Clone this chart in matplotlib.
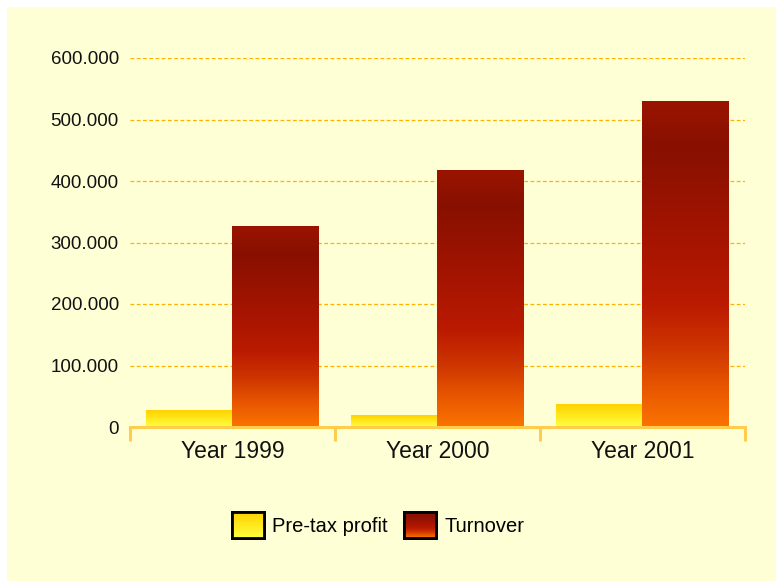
import numpy as np
import matplotlib.pyplot as plt
from matplotlib.colors import LinearSegmentedColormap
from matplotlib.patches import Patch, Rectangle
from matplotlib.ticker import FuncFormatter

# data
years = ['Year 1999', 'Year 2000', 'Year 2001']
pretax_profit = [27500, 19500, 36000]
turnover = [326500, 417000, 530000]
series_names = ['Pre-tax profit', 'Turnover']

plt.rcParams['font.family'] = ['Liberation Sans', 'DejaVu Sans']

bg = '#FFFFD5'
axis_col = '#FFCC4D'

# gradients go from top of bar (0) to bottom (1)
profit_cmap = LinearSegmentedColormap.from_list(
    'profit', [(0, '#FFD200'), (0.45, '#FFE61A'), (1, '#FFFF40')])
turnover_cmap = LinearSegmentedColormap.from_list(
    'turnover', [(0, '#9A1400'), (0.14, '#881000'), (0.45, '#A81500'),
                 (0.62, '#BA1A00'), (0.75, '#CC3300'), (0.88, '#E85600'),
                 (1, '#FA7400')])

fig = plt.figure(figsize=(7.76, 5.81), dpi=100)
fig.patch.set_facecolor('white')
fig.patches.append(Rectangle((7 / 776, 0), 1, 1 - 7 / 581, transform=fig.transFigure,
                             facecolor=bg, edgecolor='none', zorder=-10))

ax = fig.add_axes([130 / 776, 154 / 581, 615 / 776, 369 / 581])
ax.set_facecolor('none')

x = np.arange(len(years))
w = 0.42
b1 = ax.bar(x - w / 2, pretax_profit, w, color='none', edgecolor='none')
b2 = ax.bar(x + w / 2, turnover, w, color='none', edgecolor='none')

grad = np.linspace(0, 1, 256).reshape(-1, 1)
for bars, cmap in [(b1, profit_cmap), (b2, turnover_cmap)]:
    for r in bars:
        x0, h, bw = r.get_x(), r.get_height(), r.get_width()
        ax.imshow(grad, cmap=cmap, aspect='auto', extent=[x0, x0 + bw, 0, h],
                  origin='upper', zorder=3, interpolation='bilinear')

ax.set_xlim(-0.5, len(years) - 0.5)
ax.set_ylim(0, 600000)

ax.set_yticks(np.arange(0, 600001, 100000))
ax.yaxis.set_major_formatter(FuncFormatter(
    lambda v, p: '0' if v == 0 else '{:,.0f}'.format(v).replace(',', '.')))
ax.tick_params(axis='y', length=0, pad=8, labelsize=13.5, colors='#111111')
ax.grid(axis='y', color='#FFB000', linestyle=(0, (3, 2)), linewidth=0.9)
ax.set_axisbelow(True)

ax.set_xticks(x)
ax.set_xticklabels(years)
ax.set_xticks(np.arange(len(years) + 1) - 0.5, minor=True)
ax.tick_params(axis='x', which='major', length=0, pad=9, labelsize=16.5,
               colors='#111111')
ax.tick_params(axis='x', which='minor', length=10, width=2.2, color=axis_col)

for s in ['top', 'right', 'left']:
    ax.spines[s].set_visible(False)
ax.spines['bottom'].set_color(axis_col)
ax.spines['bottom'].set_linewidth(2.2)
ax.spines['bottom'].set_zorder(4)

handles = [Patch(facecolor='#FFE61A', edgecolor='black', linewidth=2),
           Patch(facecolor='#B01500', edgecolor='black', linewidth=2)]
leg = fig.legend(handles, series_names, loc='center', bbox_to_anchor=(378 / 776, 1 - 525 / 581),
                 ncol=2, frameon=False, fontsize=14.5, handlelength=1.6,
                 handleheight=1.6, handletextpad=0.4, columnspacing=0.8)

# paint gradients into the legend swatches
fig.canvas.draw()
for patch, cmap in zip(leg.get_patches(), [profit_cmap, turnover_cmap]):
    bb = patch.get_window_extent().transformed(fig.transFigure.inverted())
    sax = fig.add_axes([bb.x0, bb.y0, bb.width, bb.height], zorder=10)
    sax.imshow(grad, cmap=cmap, aspect='auto', interpolation='bilinear')
    sax.set_xticks([])
    sax.set_yticks([])
    for s in sax.spines.values():
        s.set_linewidth(2)
        s.set_color('black')

fig.savefig('out.png', dpi=100, facecolor=fig.get_facecolor())
